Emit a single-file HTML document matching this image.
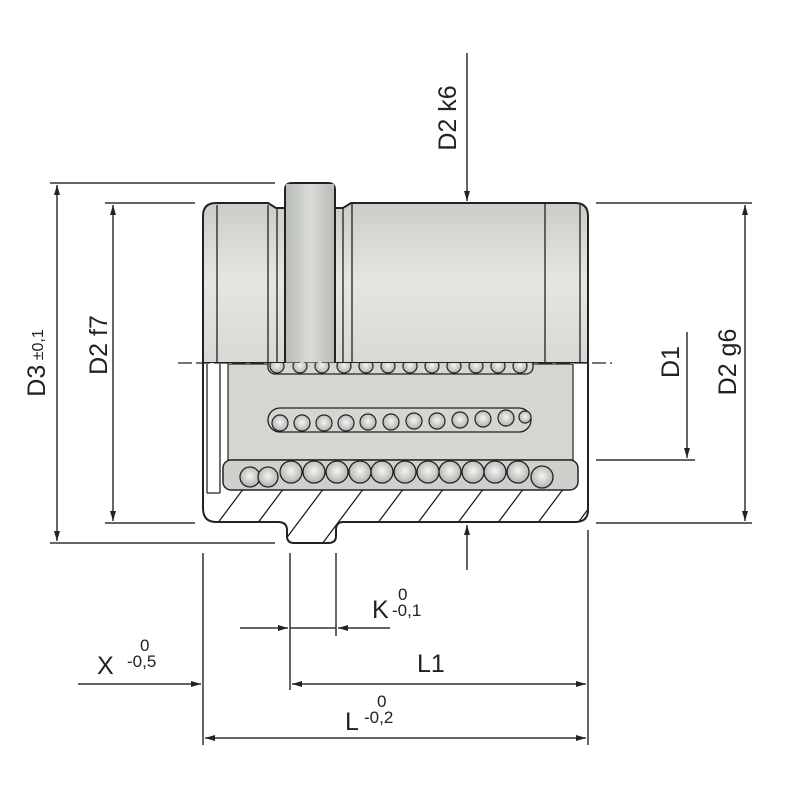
<!DOCTYPE html>
<html><head><meta charset="utf-8"><style>html,body{margin:0;padding:0;background:#fff}svg{display:block}</style></head>
<body>
<svg width="800" height="800" viewBox="0 0 800 800" xmlns="http://www.w3.org/2000/svg" font-family="'Liberation Sans',sans-serif">
<defs>
<linearGradient id="g" x1="0" y1="0" x2="0" y2="1">
<stop offset="0" stop-color="#c4c7c2"/><stop offset="0.55" stop-color="#e4e6e2"/><stop offset="1" stop-color="#d6d9d4"/></linearGradient>
<linearGradient id="gv" x1="0" y1="0" x2="1" y2="0">
<stop offset="0" stop-color="#b9bcb7"/><stop offset="0.5" stop-color="#d8dbd6"/><stop offset="1" stop-color="#b9bcb7"/></linearGradient>
<radialGradient id="ball" cx="0.5" cy="0.45" r="0.6"><stop offset="0" stop-color="#f4f5f3"/><stop offset="1" stop-color="#a9aca7"/></radialGradient>
<marker id="a" markerWidth="10" markerHeight="8" refX="10" refY="4" orient="auto" markerUnits="userSpaceOnUse"><path d="M0,1 L10,4 L0,7 Z" fill="#222"/></marker>
<clipPath id="hc"><path d="M208,490 H578 L588,500 V510 Q588,522 575,522 H343 Q336,522 336,530 V536 Q336,543 328,543 H294 Q287,543 287,536 V530 Q287,522 278,522 H216 Q203,522 203,508 V495 Z"/></clipPath>
<clipPath id="lower"><rect x="200" y="363" width="400" height="200"/></clipPath>
</defs>
<g stroke="#222" stroke-width="2" fill="none">
<path d="M203,363 V216 Q203,203 216,203 H268 L276,208 H285 V190 Q285,183 292,183 H328 Q335,183 335,190 V208 H343 L351,203 H575 Q588,203 588,216 V363 Z" fill="url(#g)"/>
<rect x="286" y="184" width="48" height="179" fill="url(#gv)" stroke="none"/>
<path d="M285,190 V363 M335,190 V363"/>
<path d="M217,205 V363 M268,205 V363 M277,208 V363 M343,208 V363 M352,204 V363 M545,204 V363 M580,205 V363" stroke-width="1.3"/>
<path d="M203,363 V508 Q203,522 216,522 H278 Q287,522 287,530 V536 Q287,543 294,543 H328 Q336,543 336,536 V530 Q336,522 343,522 H575 Q588,522 588,510 V363" fill="#fff"/>
<rect x="228" y="364" width="345" height="96" fill="#d3d6d1" stroke="#333" stroke-width="1.3"/>
<path d="M207,364 V493 M220,364 V493 M207,493 H220" stroke-width="1.3"/>
<rect x="223" y="460" width="355" height="30" rx="8" fill="#cdd0cb" stroke-width="1.5"/>
<g clip-path="url(#hc)" stroke-width="1.3">
<path d="M190,560 L250,480 M230,560 L290,480 M270,560 L330,480 M310,560 L370,480 M350,560 L410,480 M390,560 L450,480 M430,560 L490,480 M470,560 L530,480 M510,560 L570,480 M550,560 L610,480 M590,560 L650,480"/>
</g>
<path d="M178,363 H612" stroke-width="1.3" stroke-dasharray="14,4"/>
<g clip-path="url(#lower)">
<rect x="268" y="358" width="265" height="16" rx="7" fill="#d3d6d1" stroke-width="1.3"/>
<g fill="url(#ball)" stroke-width="1.2">
<circle cx="277" cy="366" r="7"/><circle cx="300" cy="366" r="7"/><circle cx="322" cy="366" r="7"/><circle cx="344" cy="366" r="7"/><circle cx="366" cy="366" r="7"/><circle cx="388" cy="366" r="7"/><circle cx="410" cy="366" r="7"/><circle cx="432" cy="366" r="7"/><circle cx="454" cy="366" r="7"/><circle cx="476" cy="366" r="7"/><circle cx="498" cy="366" r="7"/><circle cx="520" cy="366" r="7"/>
</g>
</g>
<rect x="268" y="408" width="263" height="24" rx="12" fill="#d3d6d1" stroke-width="1.3"/>
<g fill="url(#ball)" stroke-width="1.2">
<circle cx="280" cy="423" r="8"/><circle cx="302" cy="423" r="8"/><circle cx="324" cy="423" r="8"/><circle cx="346" cy="423" r="8"/><circle cx="368" cy="422" r="8"/><circle cx="391" cy="422" r="8"/><circle cx="414" cy="421" r="8"/><circle cx="437" cy="421" r="8"/><circle cx="460" cy="420" r="8"/><circle cx="483" cy="419" r="8"/><circle cx="506" cy="418" r="8"/><circle cx="525" cy="417" r="6"/>
</g>
<g fill="url(#ball)" stroke-width="1.3">
<circle cx="250" cy="477" r="10"/><circle cx="268" cy="477" r="10"/><circle cx="291" cy="472" r="11"/><circle cx="314" cy="472" r="11"/><circle cx="337" cy="472" r="11"/><circle cx="360" cy="472" r="11"/><circle cx="382" cy="472" r="11"/><circle cx="405" cy="472" r="11"/><circle cx="428" cy="472" r="11"/><circle cx="450" cy="472" r="11"/><circle cx="473" cy="472" r="11"/><circle cx="495" cy="472" r="11"/><circle cx="518" cy="472" r="11"/><circle cx="542" cy="477" r="11"/>
</g>
</g>
<g stroke="#333" stroke-width="1.5" fill="none">
<path d="M50,183 H275 M50,543 H275 M105,203 H195 M105,523 H195"/>
<path d="M57,363 V185" marker-end="url(#a)"/><path d="M57,363 V541" marker-end="url(#a)"/>
<path d="M113,363 V205" marker-end="url(#a)"/><path d="M113,363 V521" marker-end="url(#a)"/>
<path d="M596,203 H752 M596,523 H752 M596,460 H695"/>
<path d="M745,363 V205" marker-end="url(#a)"/><path d="M745,363 V521" marker-end="url(#a)"/>
<path d="M687,332 V458" marker-end="url(#a)"/>
<path d="M467,53 V201" marker-end="url(#a)"/>
<path d="M467,570 V525" marker-end="url(#a)"/>
<path d="M203,553 V745 M290,553 V690 M336,553 V636 M588,530 V745"/>
<path d="M240,628 H288" marker-end="url(#a)"/><path d="M390,628 H338" marker-end="url(#a)"/><path d="M290,628 H336"/>
<path d="M78,684 H201" marker-end="url(#a)"/>
<path d="M430,684 H292" marker-end="url(#a)"/><path d="M430,684 H586" marker-end="url(#a)"/>
<path d="M400,738 H205" marker-end="url(#a)"/><path d="M400,738 H586" marker-end="url(#a)"/>
</g>
<g fill="#222" font-size="25">
<text transform="translate(45,363) rotate(-90)" text-anchor="middle">D3<tspan font-size="16" dy="-2"> ±0,1</tspan></text>
<text transform="translate(107,345) rotate(-90)" text-anchor="middle">D2 f7</text>
<text transform="translate(456,118) rotate(-90)" text-anchor="middle">D2 k6</text>
<text transform="translate(679,362) rotate(-90)" text-anchor="middle">D1</text>
<text transform="translate(736,362) rotate(-90)" text-anchor="middle">D2 g6</text>
<text x="372" y="618">K</text>
<text x="392" y="616" font-size="17">-0,1</text><text x="398" y="600" font-size="17">0</text>
<text x="97" y="674">X</text>
<text x="127" y="667" font-size="17">-0,5</text><text x="140" y="651" font-size="17">0</text>
<text x="417" y="672">L1</text>
<text x="345" y="730">L</text>
<text x="364" y="723" font-size="17">-0,2</text><text x="377" y="707" font-size="17">0</text>
</g>
</svg>
</body></html>
